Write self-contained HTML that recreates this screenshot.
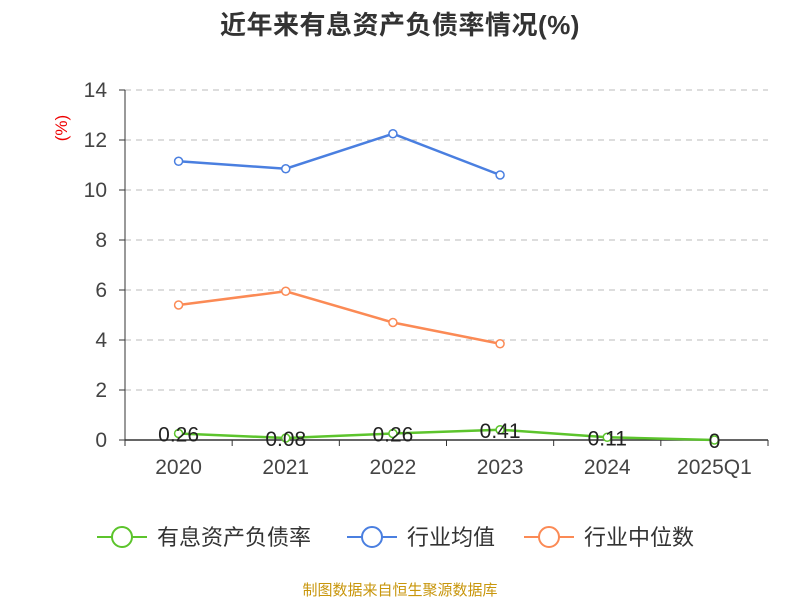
<!DOCTYPE html>
<html><head><meta charset="utf-8"><style>
body{margin:0;background:#fff;font-family:"Liberation Sans","Noto Sans CJK SC",sans-serif}
</style></head><body>
<svg id="c" width="800" height="600" xmlns="http://www.w3.org/2000/svg" style="font-family:'Liberation Sans','Noto Sans CJK SC',sans-serif">
<text x="400" y="34" text-anchor="middle" font-size="26" font-weight="bold" fill="#333" letter-spacing="0.5">近年来有息资产负债率情况(%)</text>
<text x="67" y="128" transform="rotate(-90 67 128)" text-anchor="middle" font-size="17" fill="#e00">(%)</text>
<g id="grid"></g><g id="axes"></g><g id="series"></g>
<g>
<g><line x1="97" y1="537" x2="147" y2="537" stroke="#5cc42c" stroke-width="2"/><circle cx="122" cy="537" r="10" fill="#fff" stroke="#5cc42c" stroke-width="2"/><text x="157" y="545" font-size="22" fill="#333">有息资产负债率</text></g>
<g><line x1="347" y1="537" x2="397" y2="537" stroke="#4a7fe0" stroke-width="2"/><circle cx="372" cy="537" r="10" fill="#fff" stroke="#4a7fe0" stroke-width="2"/><text x="407" y="545" font-size="22" fill="#333">行业均值</text></g>
<g><line x1="524" y1="537" x2="574" y2="537" stroke="#fb8a55" stroke-width="2"/><circle cx="549" cy="537" r="10" fill="#fff" stroke="#fb8a55" stroke-width="2"/><text x="584" y="545" font-size="22" fill="#333">行业中位数</text></g>
</g>
<text x="400" y="595" text-anchor="middle" font-size="15" fill="#c8960c">制图数据来自恒生聚源数据库</text>
</svg>
<script>
const categories=["2020","2021","2022","2023","2024","2025Q1"];
const debtRatio=[0.26,0.08,0.26,0.41,0.11,0];
const debtLabels=["0.26","0.08","0.26","0.41","0.11","0"];
const industryMean=[11.15,10.85,12.25,10.6];
const industryMedian=[5.4,5.95,4.7,3.85];
const yTicks=[0,2,4,6,8,10,12,14];
const NS="http://www.w3.org/2000/svg";
const x0=125,x1=768,y0=440,yTop=90,yMax=14;
const bw=(x1-x0)/categories.length;
const xs=i=>x0+bw*(i+0.5);
const ys=v=>y0-(v/yMax)*(y0-yTop);
function mk(p,t,a){const e=document.createElementNS(NS,t);for(const k in a)e.setAttribute(k,a[k]);p.appendChild(e);return e;}
const grid=document.getElementById('grid'),axes=document.getElementById('axes'),ser=document.getElementById('series');
yTicks.forEach(v=>{
 if(v>0){const g=mk(grid,'line',{x1:x0,x2:x1,y1:ys(v),y2:ys(v),stroke:'#bbb','stroke-dasharray':'6,5'});
 }
 const t=mk(axes,'text',{x:x0-18,y:ys(v)+7,'text-anchor':'end','font-size':21,fill:'#444'});t.textContent=v;
 
 const tk=mk(axes,'line',{x1:x0-6,x2:x0,y1:ys(v),y2:ys(v),stroke:'#333'});
 
});
const ya=mk(axes,'line',{x1:x0,x2:x0,y1:yTop,y2:y0,stroke:'#333'});
const xa=mk(axes,'line',{x1:x0,x2:x1,y1:y0,y2:y0,stroke:'#333','stroke-width':1.5});
categories.forEach((c,i)=>{
 const tk=mk(axes,'line',{x1:x0+bw*(i+1),x2:x0+bw*(i+1),y1:y0,y2:y0+6,stroke:'#333'});
 
 const t=mk(axes,'text',{x:xs(i),y:y0+34,'text-anchor':'middle','font-size':21,fill:'#444'});t.textContent=c;
 
});
const tk0=mk(axes,'line',{x1:x0,x2:x0,y1:y0,y2:y0+6,stroke:'#333'});
function series(vals,color,name){
 const g=mk(ser,'g',{});
 const pts=vals.map((v,i)=>xs(i)+','+ys(v)).join(' ');
 const l=mk(g,'polyline',{points:pts,fill:'none',stroke:color,'stroke-width':2.5});
 
 vals.forEach((v,i)=>{const c=mk(g,'circle',{cx:xs(i),cy:ys(v),r:4,fill:'#fff',stroke:color,'stroke-width':1.5});
 });
 return g;
}
series(industryMean,'#4a7fe0','industry-mean');
series(industryMedian,'#fb8a55','industry-median');
const dg=series(debtRatio,'#5cc42c','debt-ratio');
debtRatio.forEach((v,i)=>{const t=mk(dg,'text',{x:xs(i),y:ys(v)+8,'text-anchor':'middle','font-size':21,fill:'#222'});t.textContent=debtLabels[i];
 });
</script>
</body></html>
